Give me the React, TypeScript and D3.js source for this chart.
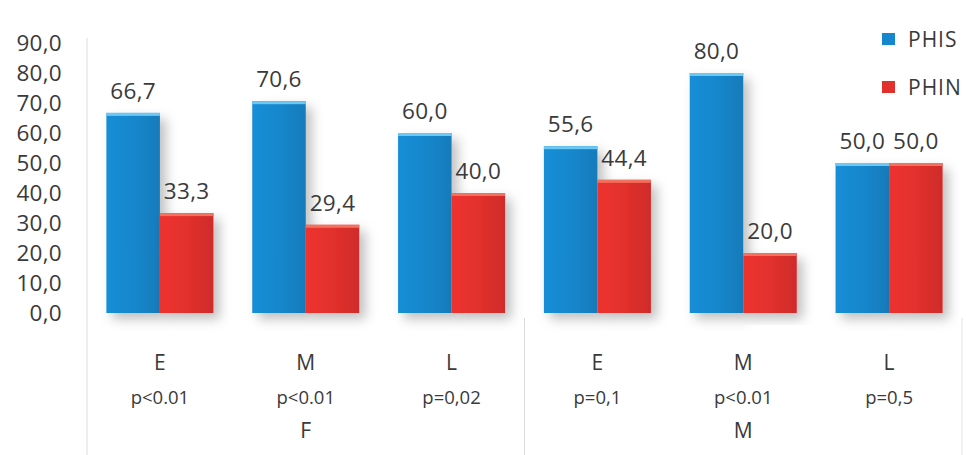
import React from "react";
import * as d3 from "d3";

const categories = ["E", "M", "L", "E", "M", "L"];
const pValues = ["p<0.01", "p<0.01", "p=0,02", "p=0,1", "p<0.01", "p=0,5"];
const groups = ["F", "M"];
const seriesNames = ["PHIS", "PHIN"];
const phis = [66.7, 70.6, 60.0, 55.6, 80.0, 50.0];
const phin = [33.3, 29.4, 40.0, 44.4, 20.0, 50.0];
const yTicks = [0, 10, 20, 30, 40, 50, 60, 70, 80, 90];

const W = 966;
const H = 455;
const colors = ["#1687cc", "#e2302d"];
const capColors = ["#6cc8f2", "#f4705e"];
const FONT = "'Open Sans', 'DejaVu Sans', sans-serif";
const TXT = "#3a3a3a";
const fmt = (v: number) => v.toFixed(1).replace(".", ",");

export default function App() {
  const left = 87;
  const right = 962;
  const y = d3.scaleLinear().domain([0, 90]).range([313, 43]);
  const idx = categories.map((_, i) => String(i));
  const x = d3.scaleBand<string>().domain(idx).range([left, right]).paddingInner(0.266).paddingOuter(0.133);
  const xs = d3.scaleBand<string>().domain(seriesNames).range([0, x.bandwidth()]);
  const series = [phis, phin];
  const step = x.step();

  return (
    <svg width={W} height={H} style={{ position: "fixed", left: 0, top: 0, background: "#fff" }} fontFamily={FONT}>
      <defs>
        <filter id="sh" x="-30%" y="-10%" width="170%" height="130%">
          <feDropShadow dx="6" dy="6" stdDeviation="6" floodColor="#000" floodOpacity="0.25" />
        </filter>
        {colors.map((c, si) => (
          <linearGradient key={si} id={`g${si}`} x1="0" x2="1" y1="0" y2="0">
            <stop offset="0" stopColor={d3.color(c)!.brighter(0.15).formatHex()} />
            <stop offset="0.5" stopColor={c} />
            <stop offset="1" stopColor={d3.color(c)!.darker(0.25).formatHex()} />
          </linearGradient>
        ))}
      </defs>
      <rect width={W} height={H} fill="#fff" />
      <line x1={left} x2={left} y1={38} y2={H} stroke="#dcdcdc" />
      <line x1={left + step * 3} x2={left + step * 3} y1={318} y2={H} stroke="#dcdcdc" />
      <line x1={right} x2={right} y1={318} y2={H} stroke="#e4e4e4" />
      {yTicks.map((t) => (
        <text key={t} x={62} y={y(t)} dy="0.36em" textAnchor="end" fontSize={22.5} fill={TXT} letterSpacing={0.3}>
          {fmt(t)}
        </text>
      ))}
      {series.map((vals, si) =>
        vals.map((v, i) => {
          const bx = (x(String(i)) ?? 0) + (xs(seriesNames[si]) ?? 0);
          const bw = xs.bandwidth();
          const top = y(v);
          return (
            <g key={`${si}-${i}`}>
              <rect x={bx} y={top} width={bw} height={y(0) - top} fill={`url(#g${si})`} filter="url(#sh)" />
              <rect x={bx} y={top} width={bw} height={3} fill={capColors[si]} />
              <text x={bx + bw / 2} y={top - 14} textAnchor="middle" fontSize={22.5} fill={TXT} letterSpacing={0.3}>
                {fmt(v)}
              </text>
            </g>
          );
        })
      )}
      {categories.map((c, i) => {
        const cx = (x(String(i)) ?? 0) + x.bandwidth() / 2;
        return (
          <g key={i}>
            <text x={cx} y={362} dy="0.36em" textAnchor="middle" fontSize={21} fill={TXT}>{c}</text>
            <text x={cx} y={397} dy="0.36em" textAnchor="middle" fontSize={18.5} fill={TXT}>{pValues[i]}</text>
          </g>
        );
      })}
      {groups.map((g, gi) => (
        <text key={gi} x={(x(String(gi * 3 + 1)) ?? 0) + x.bandwidth() / 2} y={430} dy="0.36em" textAnchor="middle" fontSize={21} fill={TXT}>
          {g}
        </text>
      ))}
      {seriesNames.map((s, si) => (
        <g key={s} transform={`translate(882, ${39 + si * 48})`}>
          <rect x={0} y={-6} width={13} height={12} fill={colors[si]} />
          <text x={26} y={0} dy="0.36em" fontSize={21} fill={TXT} letterSpacing={1}>{s}</text>
        </g>
      ))}
    </svg>
  );
}
